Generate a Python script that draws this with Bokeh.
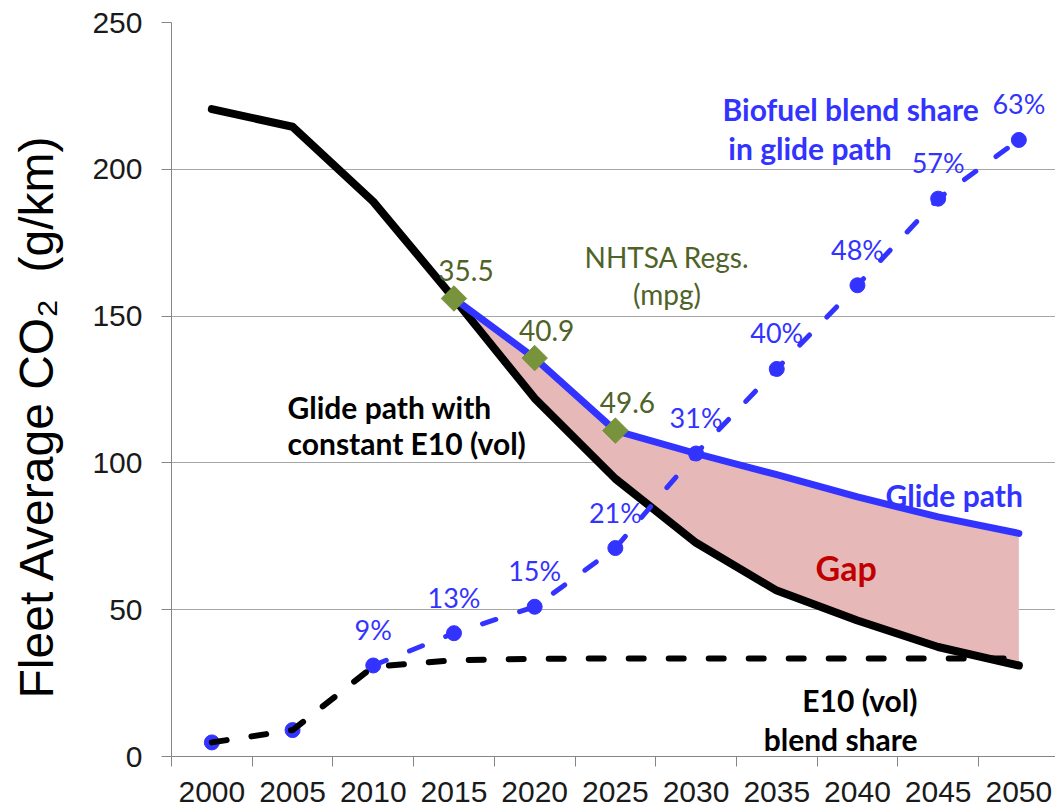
from bokeh.plotting import figure
from bokeh.models import ColumnDataSource, FixedTicker, Range1d
from bokeh.core.properties import value
from bokeh.embed import file_html
from bokeh.resources import INLINE

# ---------------- data ----------------
years = [2000, 2005, 2010, 2015, 2020, 2025, 2030, 2035, 2040, 2045, 2050]
constant_e10_path = [220.5, 214.5, 189.0, 156.0, 122.0, 94.6, 72.8, 56.5, 46.3, 37.3, 31.0]
e10_blend_share = [4.8, 9.0, 30.6, 32.8, 33.3, 33.4, 33.4, 33.4, 33.4, 33.4, 33.4]
biofuel_share_plot = [4.8, 9.0, 31.0, 42.0, 51.0, 71.0, 103.2, 132.0, 160.5, 190.0, 210.0]
biofuel_share_labels = ["", "", "9%", "13%", "15%", "21%", "31%", "40%", "48%", "57%", "63%"]

glide_years = [2015, 2020, 2025, 2030, 2035, 2040, 2045, 2050]
glide_path = [156.0, 135.7, 111.0, 103.2, 96.0, 88.4, 81.6, 76.0]
gap_lower = [156.0, 122.0, 94.6, 72.8, 56.5, 46.3, 37.3, 31.0]

nhtsa_years = [2015, 2020, 2025]
nhtsa_co2 = [156.0, 135.7, 111.0]
nhtsa_mpg = ["35.5", "40.9", "49.6"]

y_ticks = [0, 50, 100, 150, 200, 250]

# ---------------- styles ----------------
BLUE = "#3333FF"
BLACK = "#000000"
OLIVE_TXT = "#4F6228"
OLIVE_MK = "#77933C"
PINK = "#E6B9B8"
RED = "#C00000"
GRID = "#A6A6A6"
AXIS = "#868686"
LATO = value("Lato")

p = figure(width=1055, height=807,
           x_range=Range1d(1997.5, 2052.27), y_range=Range1d(0, 250),
           output_backend="svg", toolbar_location=None,
           min_border_left=171, min_border_top=22, min_border_right=0,
           min_border_bottom=51)
p.outline_line_color = None
p.background_fill_color = "white"
p.border_fill_color = "white"

# x axis: labels centred on categories, tick marks between them
bounds = [y - 2.5 for y in years] + [years[-1] + 2.5]
p.xaxis.ticker = FixedTicker(ticks=years, minor_ticks=bounds)
p.xaxis.major_tick_out = 0
p.xaxis.major_tick_in = 0
p.xaxis.minor_tick_out = 10
p.xaxis.minor_tick_in = 0
p.xaxis.minor_tick_line_color = AXIS
p.xaxis.axis_line_color = AXIS
p.xaxis.major_label_standoff = 15
p.xaxis.major_label_text_font = "Liberation Sans"
p.xaxis.major_label_text_font_size = "30px"
p.xaxis.major_label_text_color = "#1a1a1a"
p.xgrid.visible = False

p.yaxis.ticker = FixedTicker(ticks=y_ticks)
p.yaxis.major_tick_out = 10
p.yaxis.major_tick_in = 0
p.yaxis.major_tick_line_color = AXIS
p.yaxis.minor_tick_line_color = None
p.yaxis.axis_line_color = AXIS
p.yaxis.major_label_standoff = 19
p.yaxis.major_label_text_font = "Liberation Sans"
p.yaxis.major_label_text_font_size = "30px"
p.yaxis.major_label_text_color = "#1a1a1a"
p.yaxis.axis_label = "Fleet Average CO\u2082\u00a0\u00a0(g/km)\u00a0\u00a0\u00a0\u00a0"
p.yaxis.axis_label_text_font = "Liberation Sans"
p.yaxis.axis_label_text_font_size = "48px"
p.yaxis.axis_label_text_font_style = "normal"
p.yaxis.axis_label_text_color = BLACK
p.yaxis.axis_label_standoff = 26
p.ygrid.ticker = FixedTicker(ticks=y_ticks)
p.ygrid.grid_line_color = GRID

# ---------------- glyphs ----------------
gap_src = ColumnDataSource(dict(x=glide_years, lo=gap_lower, hi=glide_path))
p.varea(x="x", y1="lo", y2="hi", source=gap_src, fill_color=PINK)

p.line(years, constant_e10_path, line_color=BLACK, line_width=8, line_join="round", line_cap="round")
p.line(glide_years, glide_path, line_color=BLUE, line_width=7, line_join="round", line_cap="round")
p.scatter(nhtsa_years, nhtsa_co2, marker="square", size=18, angle=0.785398,
          fill_color=OLIVE_MK, line_color=OLIVE_MK)

p.line(years[2:], biofuel_share_plot[2:], line_color=BLUE, line_width=5,
       line_dash="14 25", line_cap="round")
p.scatter(years, biofuel_share_plot, marker="circle", size=15, fill_color=BLUE, line_color=BLUE)
p.line(years, e10_blend_share, line_color=BLACK, line_width=6, line_dash="15 25", line_cap="round")

# ---------------- labels ----------------
pct_src = ColumnDataSource(dict(x=years, y=biofuel_share_plot, t=biofuel_share_labels))
p.text(x="x", y="y", text="t", source=pct_src, text_font=LATO, text_font_size="27px",
       text_color=BLUE, text_align="center", text_baseline="middle", y_offset=-36)

mpg_src = ColumnDataSource(dict(x=nhtsa_years, y=nhtsa_co2, t=nhtsa_mpg))
p.text(x="x", y="y", text="t", source=mpg_src, text_font=LATO, text_font_size="28px",
       text_color=OLIVE_TXT, text_align="center", text_baseline="middle",
       x_offset=12, y_offset=-28)

def note(x, y, t, color, size="30px", style="bold", align="left"):
    p.text(x=[x], y=[y], text=[t], text_font=LATO, text_font_size=size,
           text_font_style=style, text_color=color, text_align=align,
           text_baseline="alphabetic")

note(2028.2, 170.0, "NHTSA Regs.", OLIVE_TXT, size="28px", style="normal", align="center")
note(2028.2, 157.4, "(mpg)", OLIVE_TXT, size="28px", style="normal", align="center")
note(2004.69, 118.9, "Glide path with", BLACK)
note(2004.69, 106.9, "constant E10 (vol)", BLACK)
note(2041.74, 89.2, "Glide path", BLUE)
note(2037.4, 64.4, "Gap", RED, size="34px")
note(2043.72, 19.1, "E10 (vol)", BLACK, align="right")
note(2043.72, 6.1, "blend share", BLACK, align="right")
note(2031.64, 220.4, "Biofuel blend share", BLUE)
note(2032.0, 207.4, "in glide path", BLUE)

open("out.html", "w").write(file_html(p, INLINE))
